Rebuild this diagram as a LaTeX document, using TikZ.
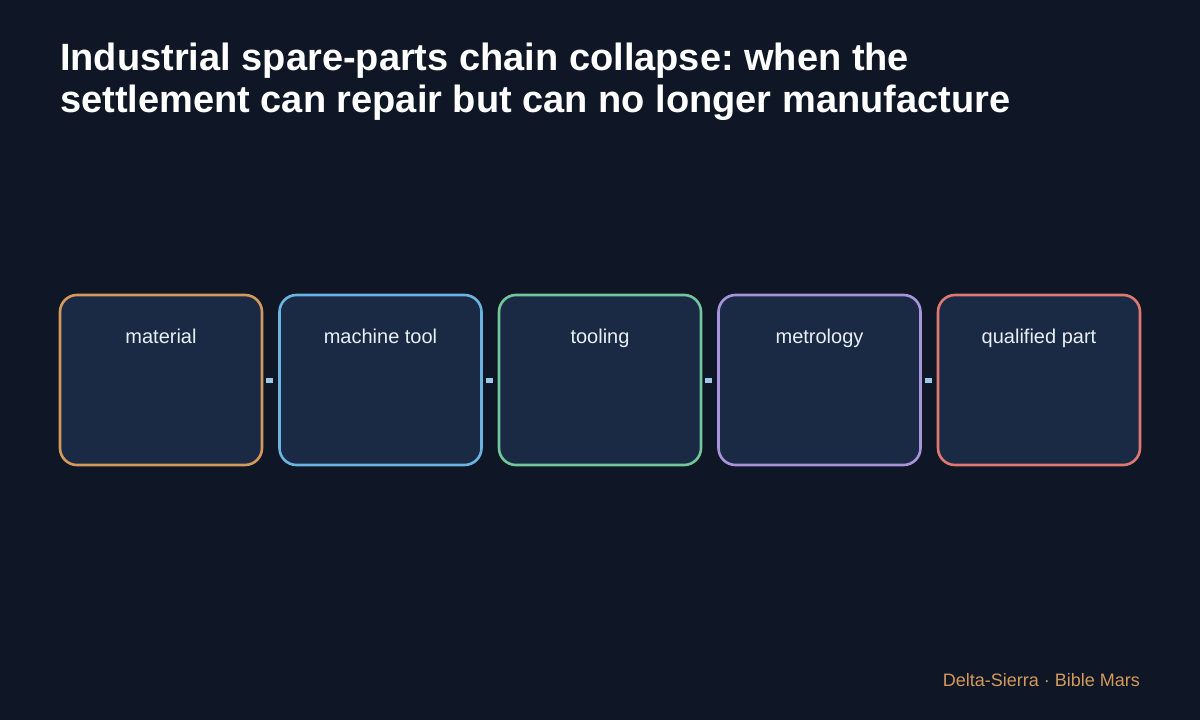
\documentclass[tikz,border=0pt]{standalone}
\usepackage{fontspec}
\setmainfont{Liberation Sans}
\frenchspacing
\definecolor{bg}{HTML}{0F1626}
\definecolor{boxfill}{HTML}{1A2A44}
\definecolor{cA}{HTML}{D49A5C}
\definecolor{cB}{HTML}{6CB4E0}
\definecolor{cC}{HTML}{72C69A}
\definecolor{cD}{HTML}{A994DC}
\definecolor{cE}{HTML}{E07872}
\definecolor{conn}{HTML}{9CC7E8}
\definecolor{labeltext}{HTML}{E8EEF6}
\definecolor{foot}{HTML}{D49A5C}
\begin{document}
\frenchspacing
\begin{tikzpicture}[x=1bp,y=-1bp,
  stagebox/.style={draw=#1, line width=2.6bp, fill=boxfill, rounded corners=17bp,
    minimum width=202bp, minimum height=170bp, inner sep=0pt},
  stagelabel/.style={text=labeltext, font=\fontsize{20bp}{24bp}\selectfont, anchor=base},
  link/.style={draw=conn, line width=5bp, shorten <=3bp, shorten >=5bp}
]
\useasboundingbox[fill=bg] (0,0) rectangle (1200,720);
\node[anchor=base west, text=white, font=\bfseries\fontsize{38bp}{42bp}\selectfont\frenchspacing, align=left, inner sep=0pt]
  (title) at (60,113) {Industrial spare-parts chain collapse: when the\\settlement can repair but can no longer manufacture};
\foreach \i/\x/\c/\t in {1/161/cA/material, 2/380.5/cB/machine tool, 3/600/cC/tooling, 4/819.5/cD/metrology, 5/1039/cE/qualified part}{
  \node[stagebox=\c] (b\i) at (\x,380) {};
  \node[stagelabel] (l\i) at (\x,343) {\t};
}
\foreach \a/\b in {1/2,2/3,3/4,4/5}{
  \path[link] (b\a.east) -- (b\b.west);
}
\node[anchor=base east, text=foot, font=\fontsize{18bp}{22bp}\selectfont, inner sep=0pt]
  (footer) at (1140,686) {Delta-Sierra · Bible Mars};
\end{tikzpicture}
\end{document}
